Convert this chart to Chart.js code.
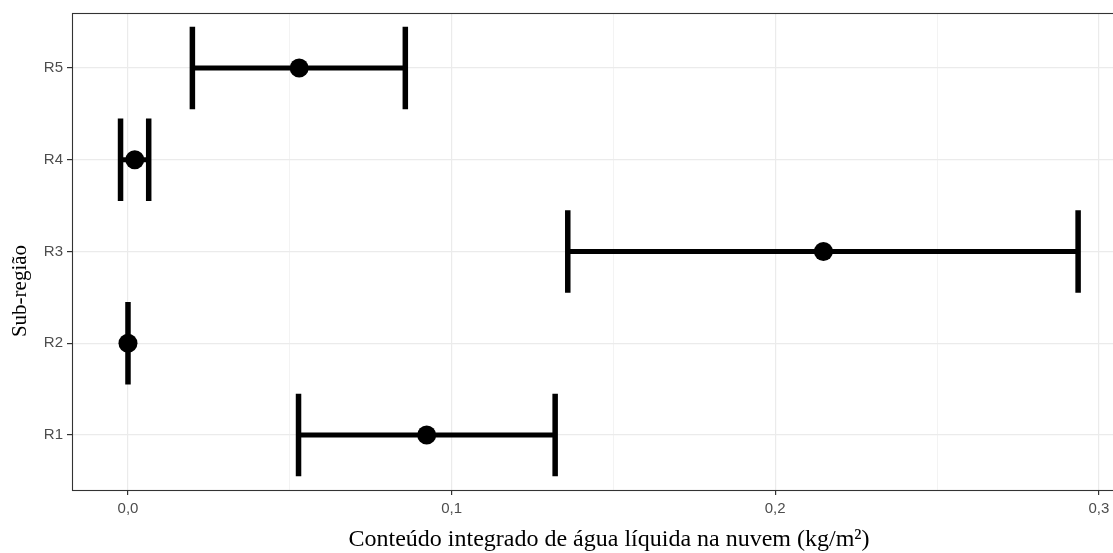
<!DOCTYPE html>
<html>
<head>
<meta charset="utf-8">
<script src="https://cdn.jsdelivr.net/npm/chart.js@4"></script>
<style>
  html, body { margin: 0; padding: 0; background: #fff; overflow: hidden; }
  #wrap { width: 1140px; height: 553px; }
  #myChart { display: block; }
</style>
</head>
<body>
<div id="wrap"><canvas id="myChart" width="1140" height="553"></canvas></div>
<script>
// sub-regions, bottom to top
const regions = ['R1', 'R2', 'R3', 'R4', 'R5'];
const meanLwc = [0.0923, 0.0, 0.2149, 0.0021, 0.0529];
const lowLwc = [0.0527, 0.0, 0.1359, -0.0023, 0.0199];
const highLwc = [0.1320, 0.0, 0.2936, 0.0064, 0.0857];
const xTicks = [0, 0.05, 0.1, 0.15, 0.2, 0.25, 0.3];

const points = regions.map((r, i) => ({ x: meanLwc[i], y: i + 1 }));

const isMajor = v => Math.abs(Math.round(v * 10) - v * 10) < 1e-6;

// horizontal error bars with end caps
const errorBars = {
  id: 'errorBars',
  beforeDatasetsDraw(chart) {
    const { ctx, scales: { x, y } } = chart;
    ctx.save();
    ctx.strokeStyle = '#000';
    ctx.lineCap = 'butt';
    regions.forEach((r, i) => {
      const yc = y.getPixelForValue(i + 1);
      const y0 = y.getPixelForValue(i + 1 - 0.45);
      const y1 = y.getPixelForValue(i + 1 + 0.45);
      const xl = x.getPixelForValue(lowLwc[i]);
      const xh = x.getPixelForValue(highLwc[i]);
      ctx.lineWidth = 5;
      ctx.beginPath();
      ctx.moveTo(xl, yc); ctx.lineTo(xh, yc);
      ctx.stroke();
      ctx.lineWidth = 5.5;
      ctx.beginPath();
      ctx.moveTo(xl, y0); ctx.lineTo(xl, y1);
      ctx.moveTo(xh, y0); ctx.lineTo(xh, y1);
      ctx.stroke();
    });
    ctx.restore();
  },
  afterDraw(chart) {
    const { ctx, chartArea: a } = chart;
    ctx.save();
    ctx.strokeStyle = '#333333';
    ctx.lineWidth = 1.1;
    ctx.strokeRect(a.left + 0.5, a.top + 0.5, a.right - a.left, a.bottom - a.top);
    ctx.fillStyle = '#000';
    ctx.textAlign = 'center';
    ctx.textBaseline = 'middle';
    ctx.font = '24px "Liberation Serif", "Times New Roman", serif';
    ctx.fillText('Conteúdo integrado de água líquida na nuvem (kg/m²)', 609, 540);
    ctx.translate(20, 291);
    ctx.rotate(-Math.PI / 2);
    ctx.font = '21px "Liberation Serif", "Times New Roman", serif';
    ctx.fillText('Sub-região', 0, 0);
    ctx.restore();
  }
};

const data = {
  datasets: [
    {
      label: 'média',
      data: points,
      backgroundColor: '#000',
      borderColor: '#000',
      pointRadius: 9.5,
      pointHoverRadius: 9.5,
      borderWidth: 0,
    }
  ]
};

const config = {
  type: 'scatter',
  data: data,
  options: {
    responsive: false,
    animation: false,
    layout: { padding: { left: 0, right: 14, top: 11, bottom: 0 } },
    plugins: {
      legend: { display: false },
      tooltip: { enabled: false }
    },
    scales: {
      x: {
        type: 'linear',
        min: -0.0173,
        max: 0.3084,
        afterBuildTicks(axis) { axis.ticks = xTicks.map(v => ({ value: v })); },
        afterFit(axis) { axis.height = 63; },
        border: { display: false },
        grid: {
          color: '#ebebeb',
          lineWidth: c => isMajor(c.tick.value) ? 1.2 : 0.6,
          tickColor: c => isMajor(c.tick.value) ? '#333333' : 'rgba(0,0,0,0)',
          tickLength: 5,
          drawOnChartArea: true
        },
        ticks: {
          color: '#4d4d4d',
          font: { family: '"Liberation Sans", Arial, sans-serif', size: 15 },
          padding: 5,
          maxRotation: 0,
          callback: v => isMajor(v) ? v.toFixed(1).replace('.', ',') : ''
        }
      },
      y: {
        type: 'linear',
        min: 0.4,
        max: 5.6,
        afterBuildTicks(axis) { axis.ticks = regions.map((r, i) => ({ value: i + 1 })); },
        afterFit(axis) { axis.width = 72; },
        border: { display: false },
        grid: {
          color: '#ebebeb',
          lineWidth: 1.2,
          tickColor: '#333333',
          tickLength: 5
        },
        ticks: {
          color: '#4d4d4d',
          font: { family: '"Liberation Sans", Arial, sans-serif', size: 15 },
          padding: 4,
          callback: v => regions[Math.round(v) - 1]
        }
      }
    }
  },
  plugins: [errorBars]
};

let ctx = document.getElementById('myChart').getContext('2d');
let chart = new Chart(ctx, config);
</script>
</body>
</html>
